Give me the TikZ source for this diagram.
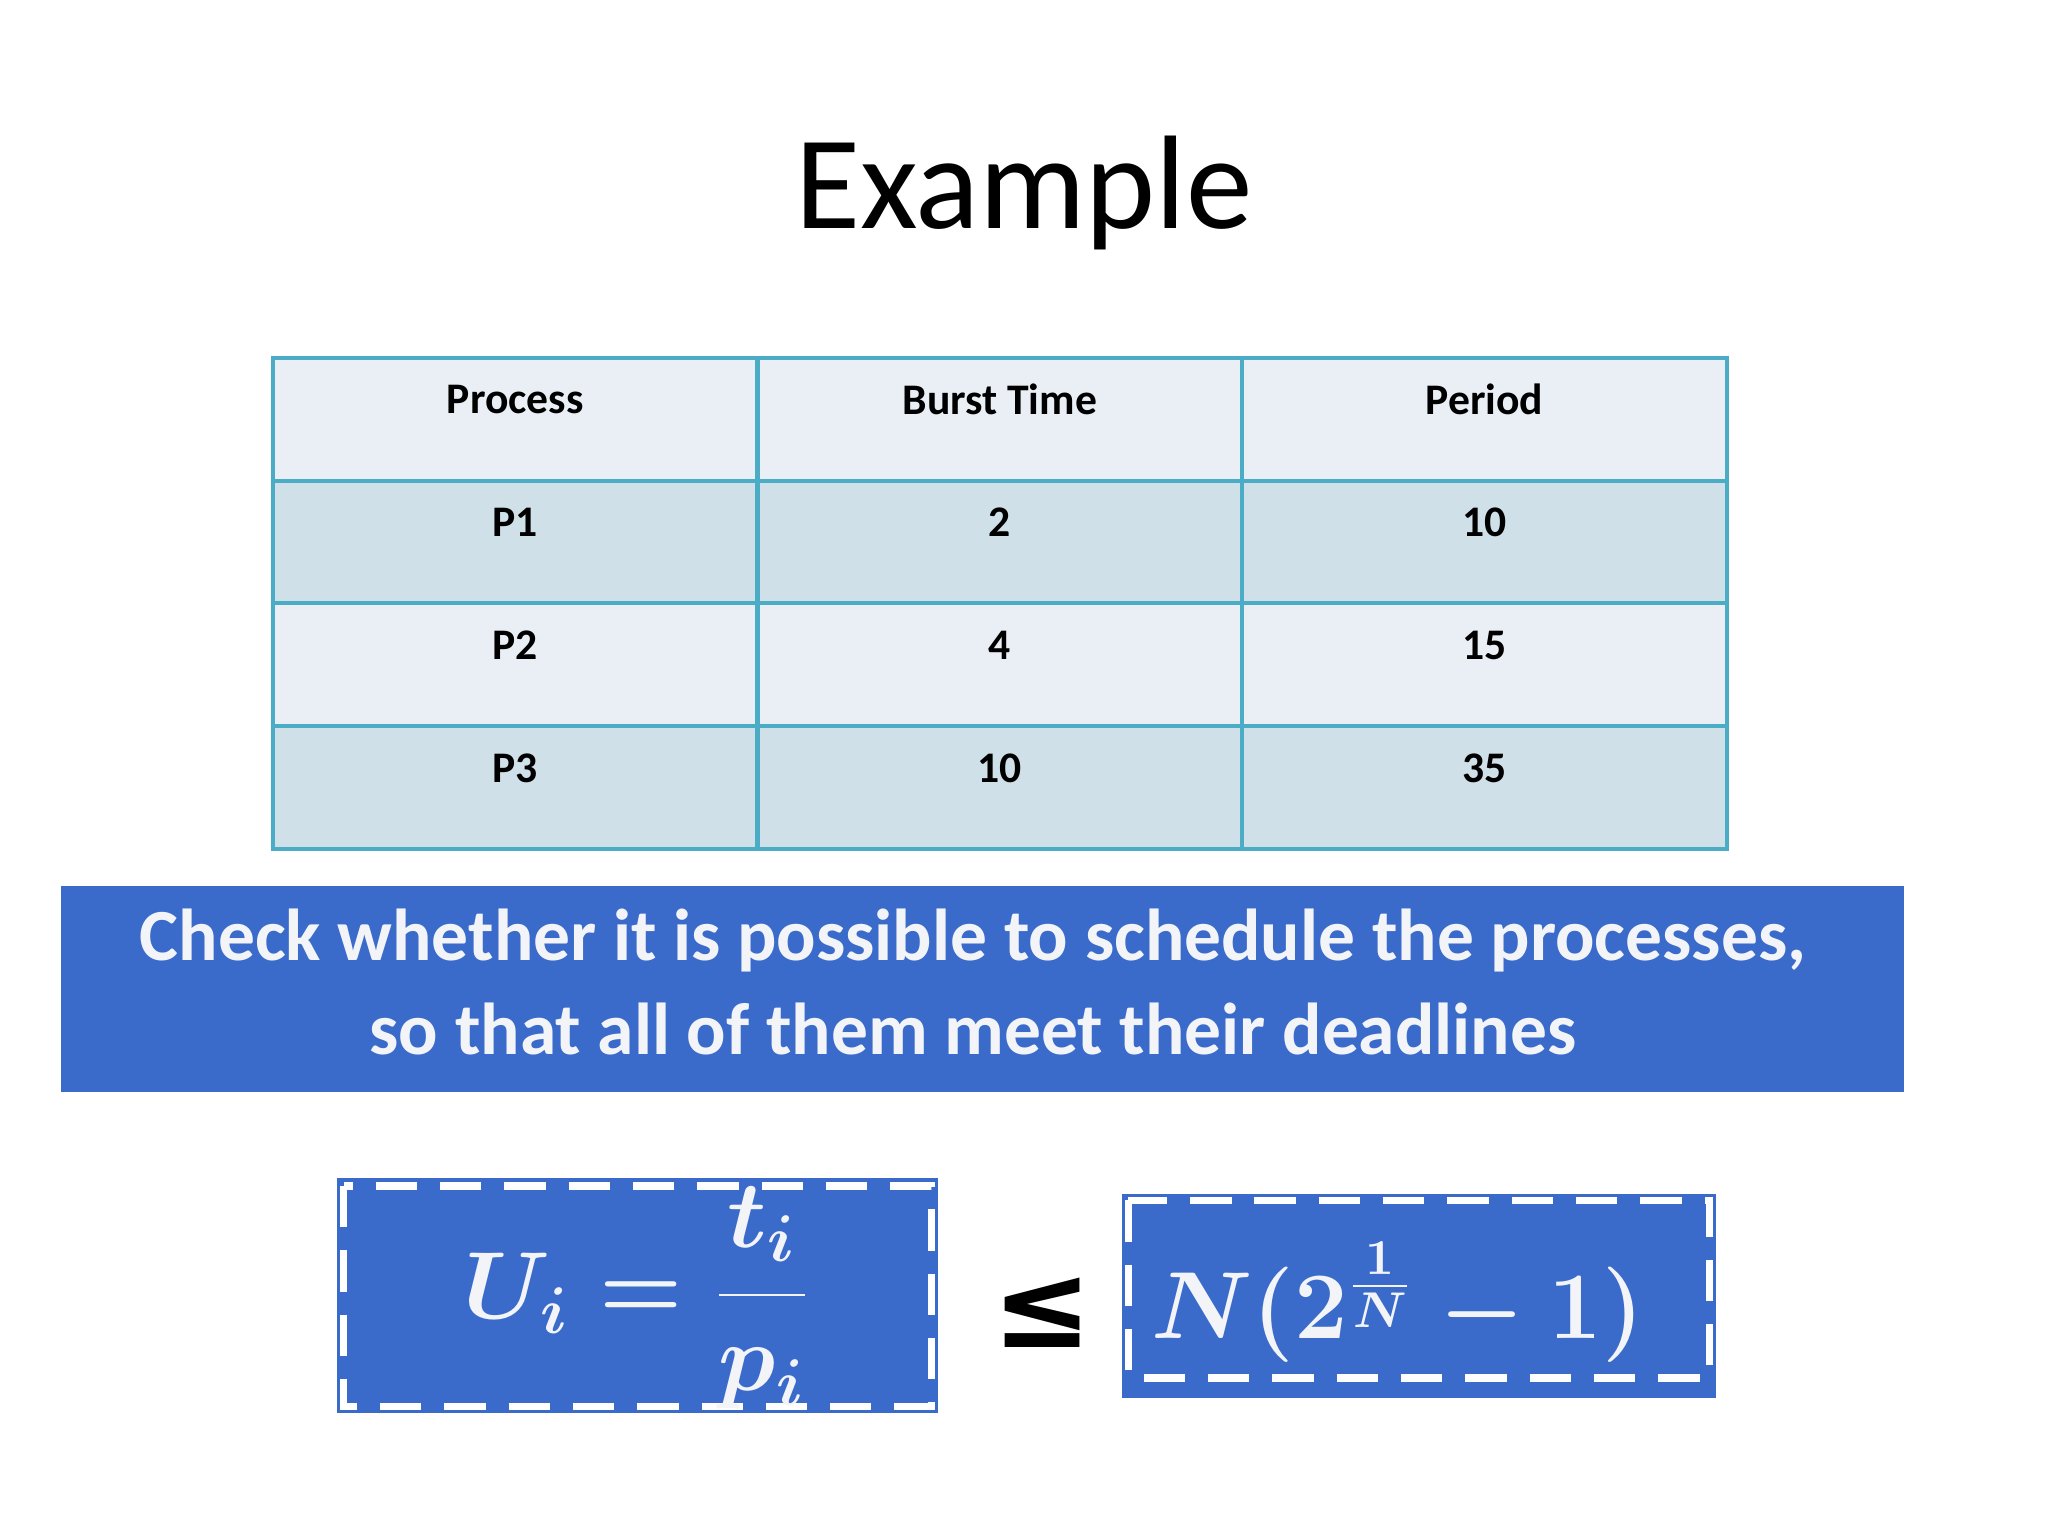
\documentclass[tikz,border=0pt]{standalone}
\usepackage{fontspec}
\setmainfont{Carlito}
\newfontfamily\symfont{DejaVu Sans}
\definecolor{tborder}{HTML}{4BACC6}
\definecolor{rowA}{HTML}{E9EFF5}
\definecolor{rowB}{HTML}{D0E0E8}
\definecolor{bannerblue}{HTML}{3A6BCB}
\definecolor{lighttext}{HTML}{F2F4F8}
\begin{document}
\begin{tikzpicture}[x=0.01cm,y=-0.01cm,
  cell/.style={draw=tborder,line width=0.9pt},
  ctext/.style={anchor=center,font=\fontsize{9.5pt}{11pt}\selectfont\bfseries},
  formbox/.style={fill=bannerblue,draw=none},
  dashb/.style={draw=white,dash pattern=on 9pt off 5pt,line width=1.6pt}]
\useasboundingbox (0,0) rectangle (1568,1176);
\node (title) at (784,148) {\fontsize{29pt}{34pt}\selectfont Example};
% table
\foreach \r/\c in {0/rowA,1/rowB,2/rowA,3/rowB}{
  \foreach \xa/\xb in {209/580,580/951,951/1322}{
    \filldraw[cell,fill=\c] (\xa,274+94*\r) rectangle (\xb,368+94*\r);
  }
}
\node[ctext] (h1) at (394.5,306) {Process};
\node[ctext] (h2) at (765.5,306) {Burst Time};
\node[ctext] (h3) at (1136.5,306) {Period};
\node[ctext] (a1) at (394.5,400) {P1};
\node[ctext] (a2) at (765.5,400) {2};
\node[ctext] (a3) at (1136.5,400) {10};
\node[ctext] (b1) at (394.5,494) {P2};
\node[ctext] (b2) at (765.5,494) {4};
\node[ctext] (b3) at (1136.5,494) {15};
\node[ctext] (c1) at (394.5,588) {P3};
\node[ctext] (c2) at (765.5,588) {10};
\node[ctext] (c3) at (1136.5,588) {35};
% banner
\fill[bannerblue] (47,678) rectangle (1458,836);
\node[text=lighttext,align=center,font=\fontsize{16pt}{20.5pt}\selectfont\bfseries] (banner) at (745,752)
 {Check whether it is possible to schedule the processes,\\so that all of them meet their deadlines};
% formula boxes
\fill[formbox] (258,902) rectangle (718,1082);
\draw[dashb] (263,908) rectangle (713,1077);
\node[text=lighttext,font=\fontsize{22pt}{26pt}\selectfont\boldmath] (f1) at (488,994) {$U_i=\displaystyle\frac{t_i}{p_i}$};
\fill[formbox] (859,914) rectangle (1314,1070);
\draw[dashb] (864,919) rectangle (1309,1055);
\node[text=lighttext,font=\fontsize{22pt}{26pt}\selectfont\boldmath] (f2) at (1070,997) {$N(2^{\frac{1}{N}}-1)$};
\node[font=\fontsize{26pt}{30pt}\selectfont\symfont\bfseries] (le) at (798,1005) {≤};
\end{tikzpicture}
\end{document}
